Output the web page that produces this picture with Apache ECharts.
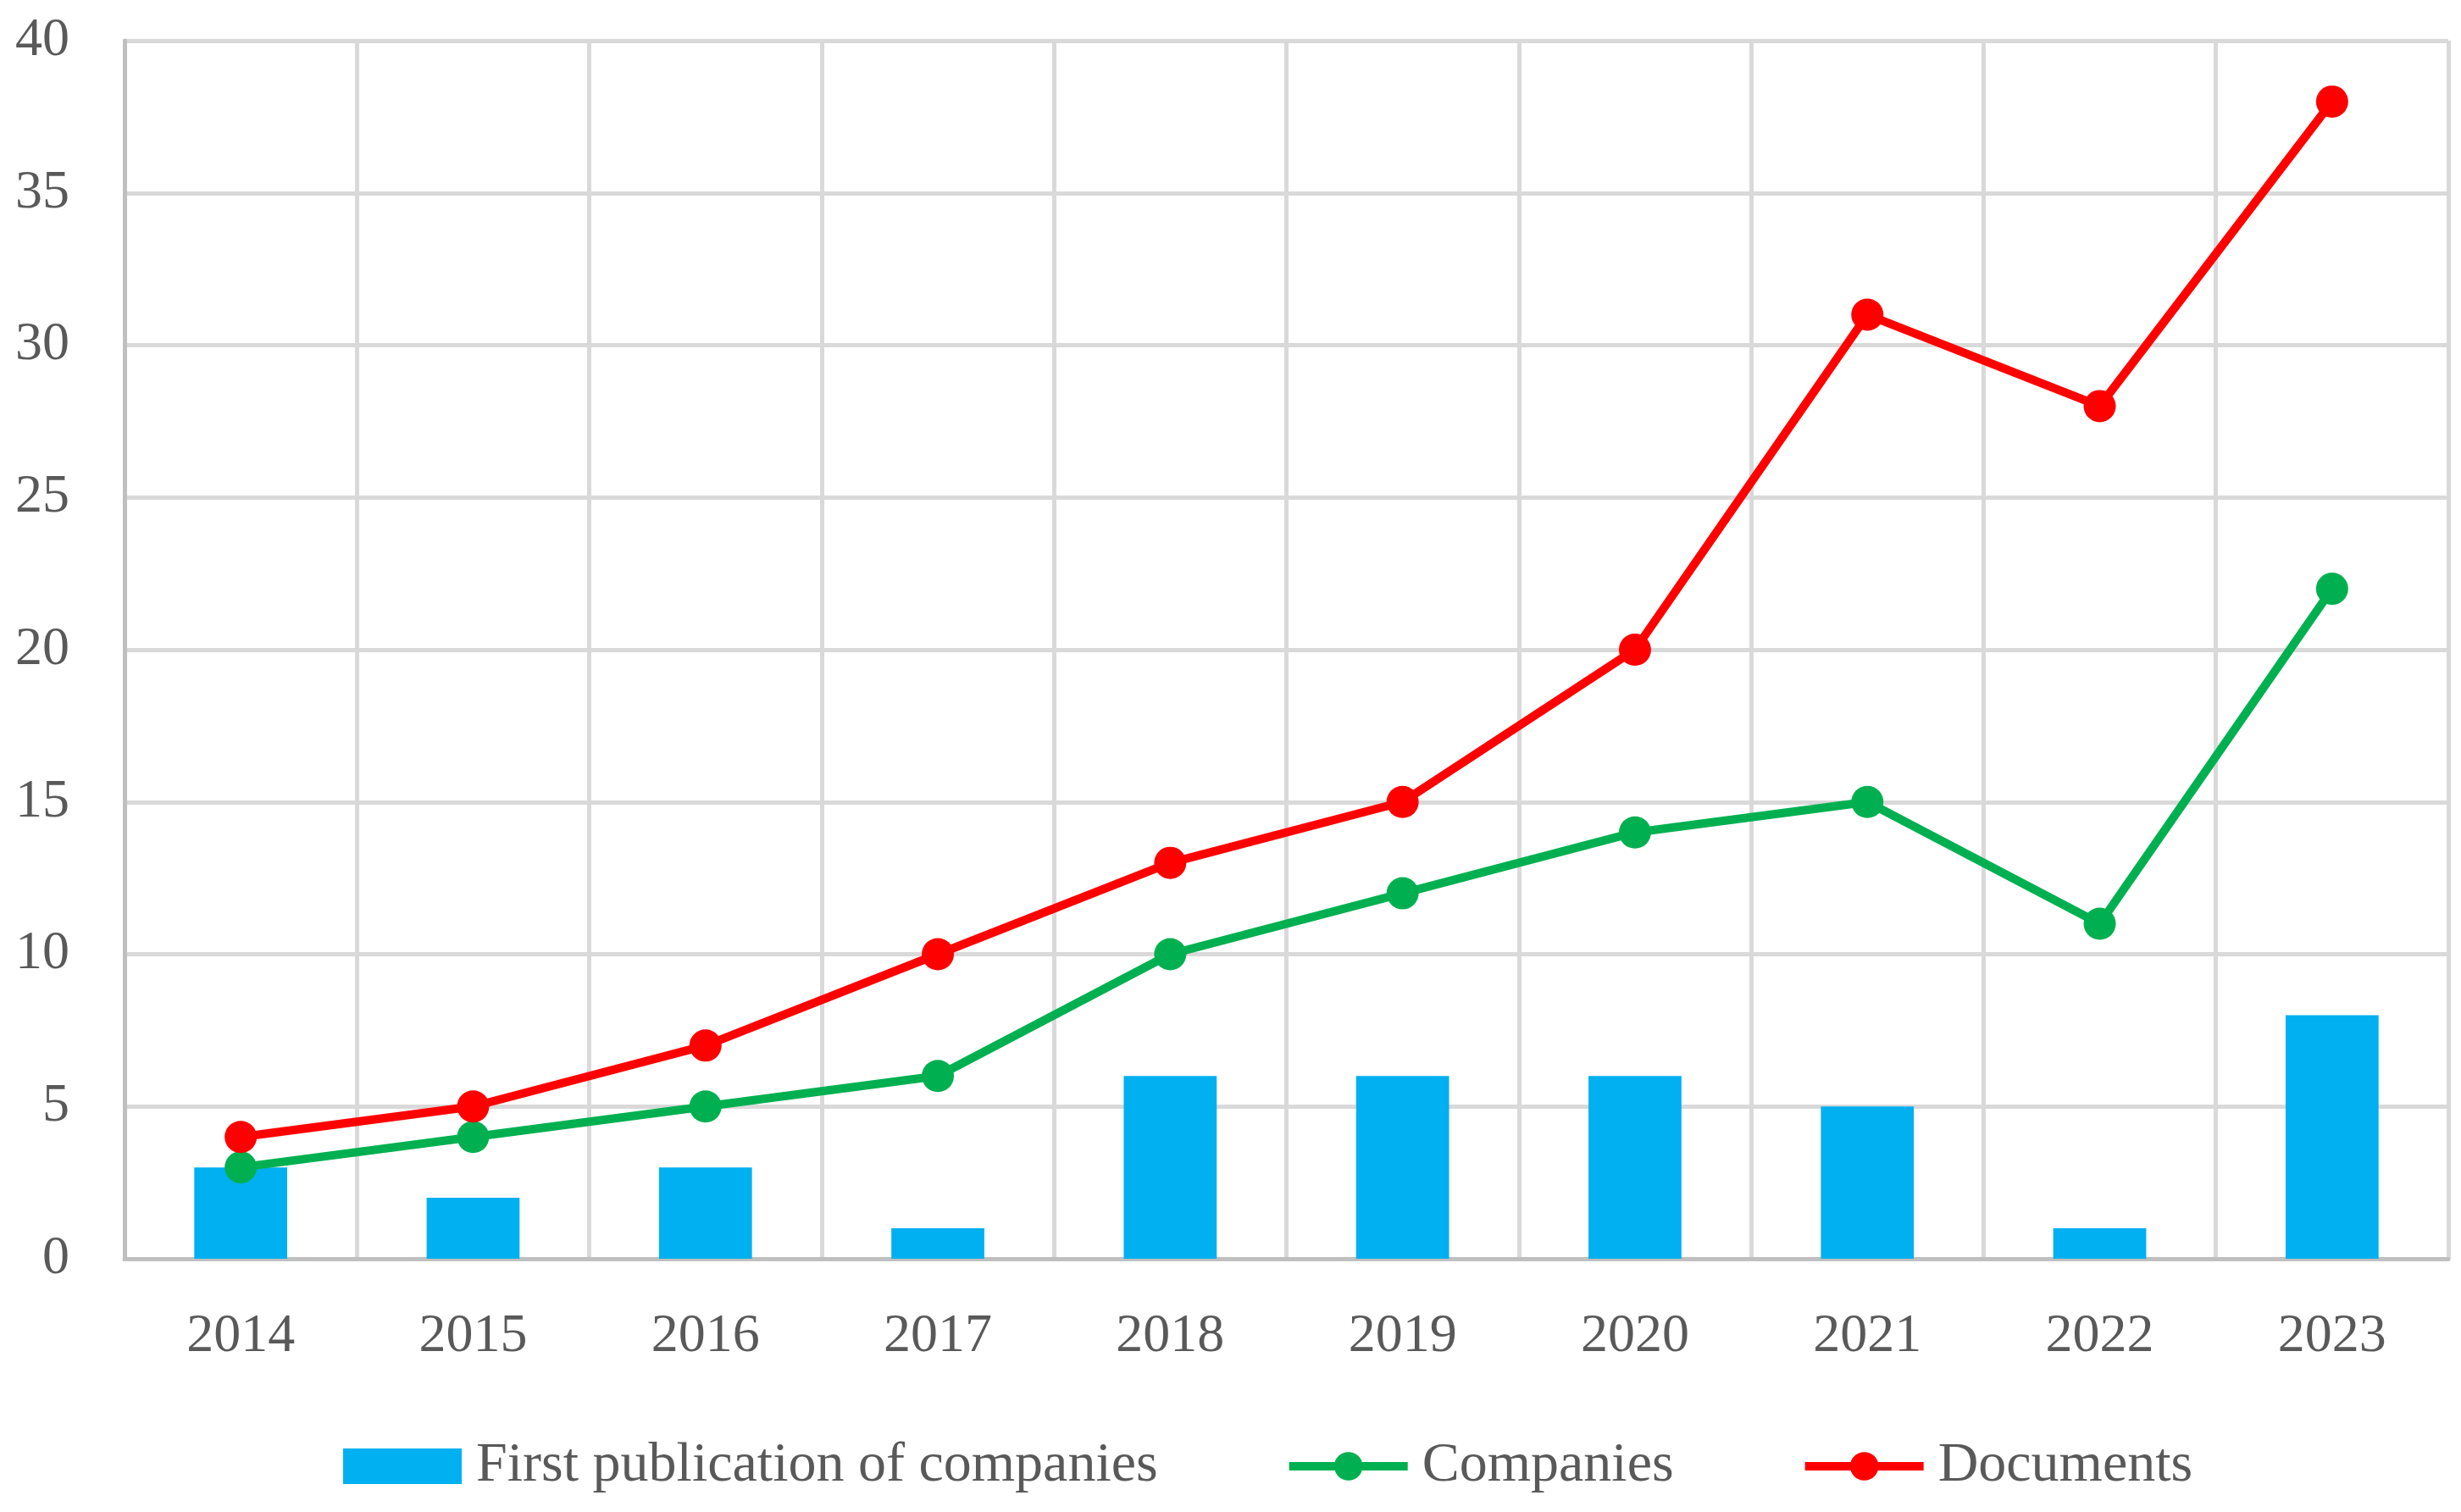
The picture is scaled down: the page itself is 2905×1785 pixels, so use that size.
<!DOCTYPE html>
<html>
<head>
<meta charset="utf-8">
<script src="https://cdn.jsdelivr.net/npm/echarts@6/dist/echarts.min.js"></script>
<style>
html,body{margin:0;padding:0;background:#fff;}
#chart{width:2905px;height:1785px;}
</style>
</head>
<body>
<div id="chart"></div>
<script>
const categories = ['2014','2015','2016','2017','2018','2019','2020','2021','2022','2023'];
const firstPublication = [3,2,3,1,6,6,6,5,1,8];
const companies = [3,4,5,6,10,12,14,15,11,22];
const documents = [4,5,7,10,13,15,20,31,28,38];
const yTicks = {min:0, max:40, interval:5};
const seriesNames = ['First publication of companies','Companies','Documents'];

const FONT = "'Liberation Serif', 'DejaVu Serif', serif";
const TEXT = '#595959';
const chart = echarts.init(document.getElementById('chart'), null, {renderer:'canvas'});
chart.setOption({
  animation:false,
  backgroundColor:'#ffffff',
  textStyle:{fontFamily:FONT},
  grid:{left:147, right:15, top:48, bottom:299, containLabel:false},
  legend:{
    left:400, top:1693,
    itemWidth:140, itemHeight:42, itemGap:150,
    textStyle:{fontFamily:FONT, fontSize:66, color:TEXT, padding:[0,0,0,12]},
    data:[
      {name:seriesNames[0], icon:'rect'},
      {name:seriesNames[1], lineStyle:{width:10, color:'#00B050'}},
      {name:seriesNames[2], lineStyle:{width:10, color:'#FF0000'}}
    ]
  },
  xAxis:{
    type:'category', data:categories, boundaryGap:true,
    axisLine:{show:true, lineStyle:{color:'#bfbfbf', width:5}},
    axisTick:{show:false},
    splitLine:{show:true, lineStyle:{color:'#d9d9d9', width:5}},
    axisLabel:{fontFamily:FONT, fontSize:64, color:TEXT, margin:60}
  },
  yAxis:{
    type:'value', min:yTicks.min, max:yTicks.max, interval:yTicks.interval,
    axisLine:{show:true, lineStyle:{color:'#bfbfbf', width:5}},
    axisTick:{show:false},
    splitLine:{show:true, lineStyle:{color:'#d9d9d9', width:5}},
    axisLabel:{fontFamily:FONT, fontSize:64, color:TEXT, margin:65}
  },
  series:[
    {name:seriesNames[0], type:'bar', data:firstPublication, barWidth:'40%',
     itemStyle:{color:'#00B0F0'}},
    {name:seriesNames[1], type:'line', data:companies, symbol:'circle', symbolSize:38,
     lineStyle:{color:'#00B050', width:10}, itemStyle:{color:'#00B050'}},
    {name:seriesNames[2], type:'line', data:documents, symbol:'circle', symbolSize:38,
     lineStyle:{color:'#FF0000', width:10}, itemStyle:{color:'#FF0000'}}
  ]
});
</script>
</body>
</html>
